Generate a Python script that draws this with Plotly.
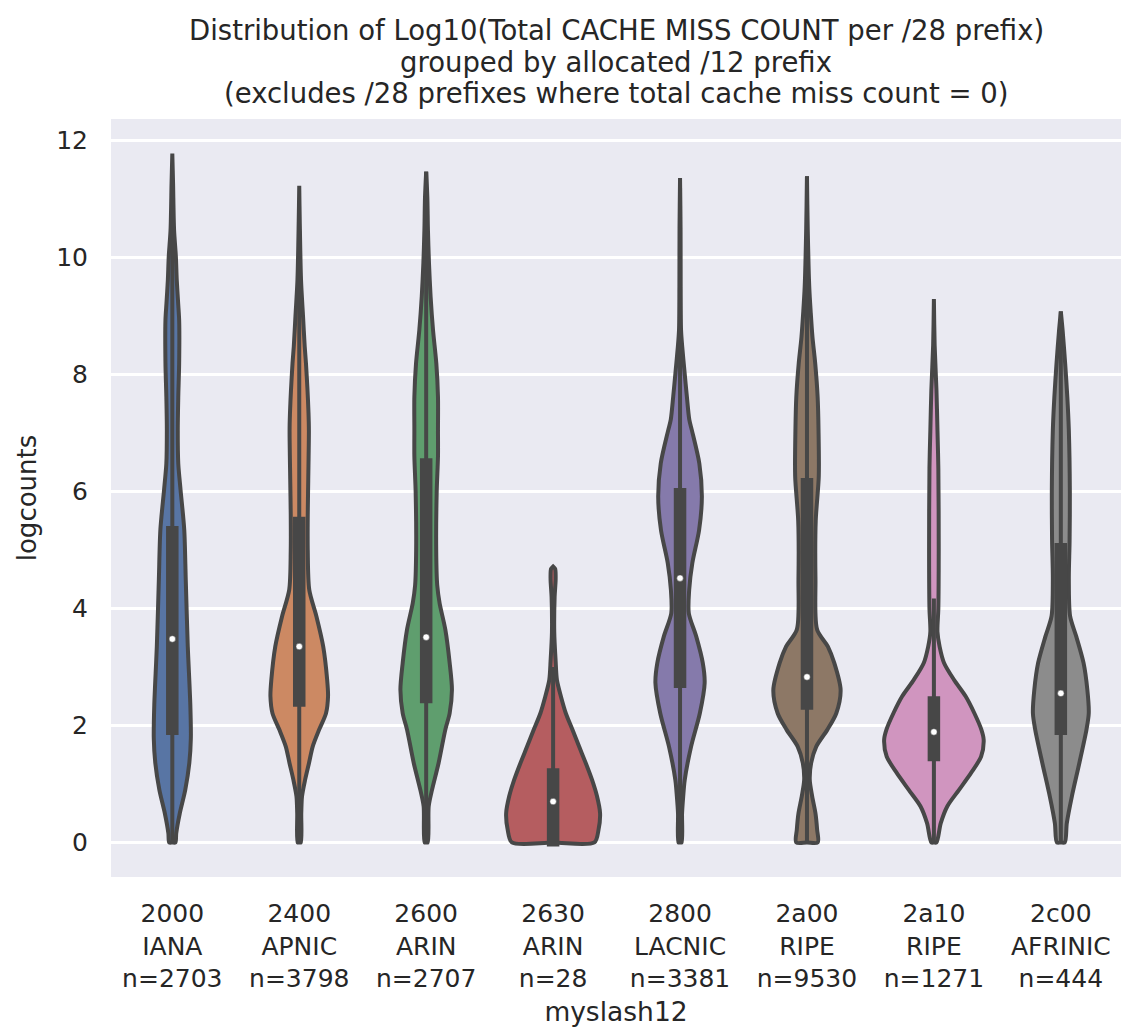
import colorsys
import plotly.graph_objects as go

# ---- data -------------------------------------------------------------
prefixes = ["2000", "2400", "2600", "2630", "2800", "2a00", "2a10", "2c00"]
registries = ["IANA", "APNIC", "ARIN", "ARIN", "LACNIC", "RIPE", "RIPE", "AFRINIC"]
counts = [2703, 3798, 2707, 28, 3381, 9530, 1271, 444]

title_lines = [
    "Distribution of Log10(Total CACHE MISS COUNT per /28 prefix)",
    "grouped by allocated /12 prefix",
    "(excludes /28 prefixes where total cache miss count = 0)",
]

# kernel density outline of each group: log10 level -> half width (category units)
kde_y_2000 = [0, 0.16, 0.5, 0.9, 1.36, 1.78, 2.35, 3.35, 4.49, 5.35, 6.03, 6.48, 7.05, 7.62,
              8.2, 8.93, 9.22, 9.62, 10.02, 10.47, 11.27, 11.78]
kde_w_2000 = [0.024, 0.031, 0.059, 0.102, 0.134, 0.146, 0.142, 0.122, 0.106, 0.094, 0.065,
              0.047, 0.043, 0.047, 0.054, 0.054, 0.046, 0.035, 0.028, 0.014, 0.006, 0]

kde_y_2400 = [0, 0.5, 0.79, 1.07, 1.36, 1.64, 1.93, 2.21, 2.5, 2.78, 3.35, 3.87, 4.32, 5.0,
              5.6, 6.2, 7.05, 7.34, 7.74, 8.19, 8.48, 8.99, 9.62, 10.64, 11.23]
kde_w_2400 = [0.012, 0.016, 0.022, 0.046, 0.077, 0.106, 0.157, 0.211, 0.227, 0.220, 0.189,
              0.135, 0.079, 0.067, 0.067, 0.071, 0.076, 0.073, 0.065, 0.053, 0.043, 0.030,
              0.014, 0.004, 0]

kde_y_2600 = [0, 0.62, 0.9, 1.36, 1.93, 2.21, 2.61, 3.07, 3.64, 4.09, 4.4, 5.0, 6.0, 6.6,
              7.05, 7.62, 8.19, 8.76, 9.33, 9.91, 10.47, 11.04, 11.47]
kde_w_2600 = [0.012, 0.020, 0.046, 0.098, 0.151, 0.185, 0.203, 0.185, 0.151, 0.106, 0.087,
              0.079, 0.083, 0.093, 0.093, 0.093, 0.080, 0.054, 0.035, 0.022, 0.014, 0.009, 0]

kde_y_2630 = [0, 0.22, 0.5, 0.79, 1.07, 1.36, 1.64, 1.93, 2.21, 2.5, 2.78, 3.1, 3.6, 4.2,
              4.5, 4.68, 4.72]
kde_w_2630 = [0.325, 0.358, 0.370, 0.346, 0.307, 0.257, 0.205, 0.152, 0.100, 0.061, 0.030,
              0.020, 0.009, 0.012, 0.020, 0.016, 0]

kde_y_2800 = [0, 0.5, 0.79, 1.07, 1.64, 2.21, 2.73, 3.07, 3.52, 3.92, 4.32, 4.78, 5.34,
              5.91, 6.48, 7.05, 7.23, 7.62, 8.08, 8.48, 8.76, 9.5, 10.5, 11.36]
kde_w_2800 = [0.012, 0.016, 0.025, 0.037, 0.087, 0.156, 0.194, 0.179, 0.128, 0.069, 0.072,
              0.097, 0.150, 0.172, 0.152, 0.093, 0.073, 0.054, 0.034, 0.017, 0.008, 0.005,
              0.004, 0]

kde_y_2a00 = [0, 0.22, 0.5, 0.79, 1.07, 1.36, 1.64, 1.93, 2.21, 2.61, 3.07, 3.35, 3.64,
              4.5, 5.5, 6.26, 7.05, 7.62, 8.19, 8.65, 9.05, 9.5, 10.5, 11.39]
kde_w_2a00 = [0.085, 0.080, 0.067, 0.041, 0.022, 0.033, 0.073, 0.161, 0.231, 0.265, 0.215,
              0.165, 0.080, 0.067, 0.069, 0.093, 0.091, 0.084, 0.065, 0.043, 0.030, 0.018,
              0.006, 0]

kde_y_2a10 = [0, 0.33, 0.62, 0.9, 1.19, 1.47, 1.76, 1.93, 2.21, 2.5, 2.78, 3.07, 3.35,
              3.6, 4.0, 5.0, 6.4, 7.05, 7.74, 8.5, 9.29]
kde_w_2a10 = [0.020, 0.054, 0.106, 0.198, 0.293, 0.372, 0.392, 0.374, 0.319, 0.250, 0.159,
              0.080, 0.045, 0.028, 0.035, 0.038, 0.035, 0.028, 0.020, 0.006, 0]

kde_y_2c00 = [0, 0.33, 0.79, 1.36, 1.93, 2.21, 2.61, 3.07, 3.52, 3.87, 4.5, 5.16, 6.0,
              7.05, 7.62, 8.19, 8.76, 9.08]
kde_w_2c00 = [0.031, 0.047, 0.087, 0.146, 0.202, 0.220, 0.209, 0.179, 0.122, 0.073, 0.063,
              0.069, 0.071, 0.063, 0.051, 0.034, 0.014, 0]

# box statistics per group
q1 = [1.84, 2.32, 2.38, -0.07, 2.64, 2.27, 1.39, 1.84]
median = [3.48, 3.35, 3.51, 0.70, 4.52, 2.83, 1.89, 2.55]
q3 = [5.41, 5.57, 6.57, 1.27, 6.06, 6.23, 2.50, 5.12]
whisker_lo = [0, 0, 0, 0, 0, 0, 0, 0]
whisker_hi = [10.74, 10.45, 11.47, 3.0, 11.19, 11.39, 4.17, 9.08]

kde_y = [kde_y_2000, kde_y_2400, kde_y_2600, kde_y_2630,
         kde_y_2800, kde_y_2a00, kde_y_2a10, kde_y_2c00]
kde_w = [kde_w_2000, kde_w_2400, kde_w_2600, kde_w_2630,
         kde_w_2800, kde_w_2a00, kde_w_2a10, kde_w_2c00]

# ---- style ------------------------------------------------------------
deep = ["#4C72B0", "#DD8452", "#55A868", "#C44E52",
        "#8172B3", "#937860", "#DA8BC3", "#8C8C8C"]


def desaturate(hex_color, prop=0.75):
    r, g, b = (int(hex_color[i:i + 2], 16) / 255 for i in (1, 3, 5))
    h, l, s = colorsys.rgb_to_hls(r, g, b)
    r, g, b = colorsys.hls_to_rgb(h, l, s * prop)
    return "#{:02x}{:02x}{:02x}".format(round(r * 255), round(g * 255), round(b * 255))


fills = [desaturate(c) for c in deep]
GRAY = "#474747"
FONT = "DejaVu Sans, sans-serif"
TEXT = "#262626"

# plot area in pixels (top, bottom) used to place the title lines
PLOT_TOP, PLOT_BOTTOM = 119, 877

fig = go.Figure()

for i in range(len(prefixes)):
    ys, ws = kde_y[i], kde_w[i]
    # outline: bottom centre -> right side up -> left side down -> bottom centre
    xs = [i] + [i + w for w in ws] + [i - w for w in reversed(ws)] + [i]
    yy = [ys[0]] + list(ys) + list(reversed(ys)) + [ys[0]]
    fig.add_trace(go.Scatter(
        x=xs, y=yy, mode="lines", fill="toself", fillcolor=fills[i],
        line=dict(color=GRAY, width=4, shape="spline", smoothing=0.8),
        hoverinfo="skip", showlegend=False))

for i in range(len(prefixes)):
    # whiskers
    fig.add_trace(go.Scatter(
        x=[i, i], y=[whisker_lo[i], whisker_hi[i]], mode="lines",
        line=dict(color=GRAY, width=4), hoverinfo="skip", showlegend=False))
    # inter-quartile box
    fig.add_trace(go.Scatter(
        x=[i, i], y=[q1[i], q3[i]], mode="lines",
        line=dict(color=GRAY, width=12.5), hoverinfo="skip", showlegend=False))

# medians
fig.add_trace(go.Scatter(
    x=list(range(len(prefixes))), y=median, mode="markers",
    marker=dict(color="white", size=6.5, line=dict(color=GRAY, width=0.5)),
    hoverinfo="skip", showlegend=False))

tick_text = [f"{p}<br>{r}<br>n={n}" for p, r, n in zip(prefixes, registries, counts)]

# three centred title lines
title_centres_px = [30, 62, 93]
for line, ypx in zip(title_lines, title_centres_px):
    fig.add_annotation(
        text=line, xref="paper", yref="paper",
        x=0.5, y=(PLOT_BOTTOM - ypx) / (PLOT_BOTTOM - PLOT_TOP),
        xanchor="center", yanchor="middle", showarrow=False,
        font=dict(family=FONT, size=27.5, color=TEXT))

fig.update_layout(
    width=1121, height=1030,
    margin=dict(l=111, r=0, t=PLOT_TOP, b=1030 - PLOT_BOTTOM),
    paper_bgcolor="white", plot_bgcolor="#EAEAF2",
    font=dict(family=FONT, size=25, color=TEXT),
    showlegend=False,
    xaxis=dict(
        range=[-0.483, 7.474], tickvals=list(range(len(prefixes))), ticktext=tick_text,
        showgrid=False, zeroline=False, ticks="", showline=False,
        tickfont=dict(size=25), ticklabelstandoff=19,
        title=dict(text="myslash12", font=dict(size=26.5), standoff=10)),
    yaxis=dict(
        range=[-0.59, 12.37], tickvals=[0, 2, 4, 6, 8, 10, 12],
        showgrid=True, gridcolor="white", gridwidth=2.5, zeroline=False,
        ticks="", showline=False, tickfont=dict(size=25), ticklabelstandoff=22,
        title=dict(text="logcounts", font=dict(size=26), standoff=12)),
)

fig.write_html("out.html")
